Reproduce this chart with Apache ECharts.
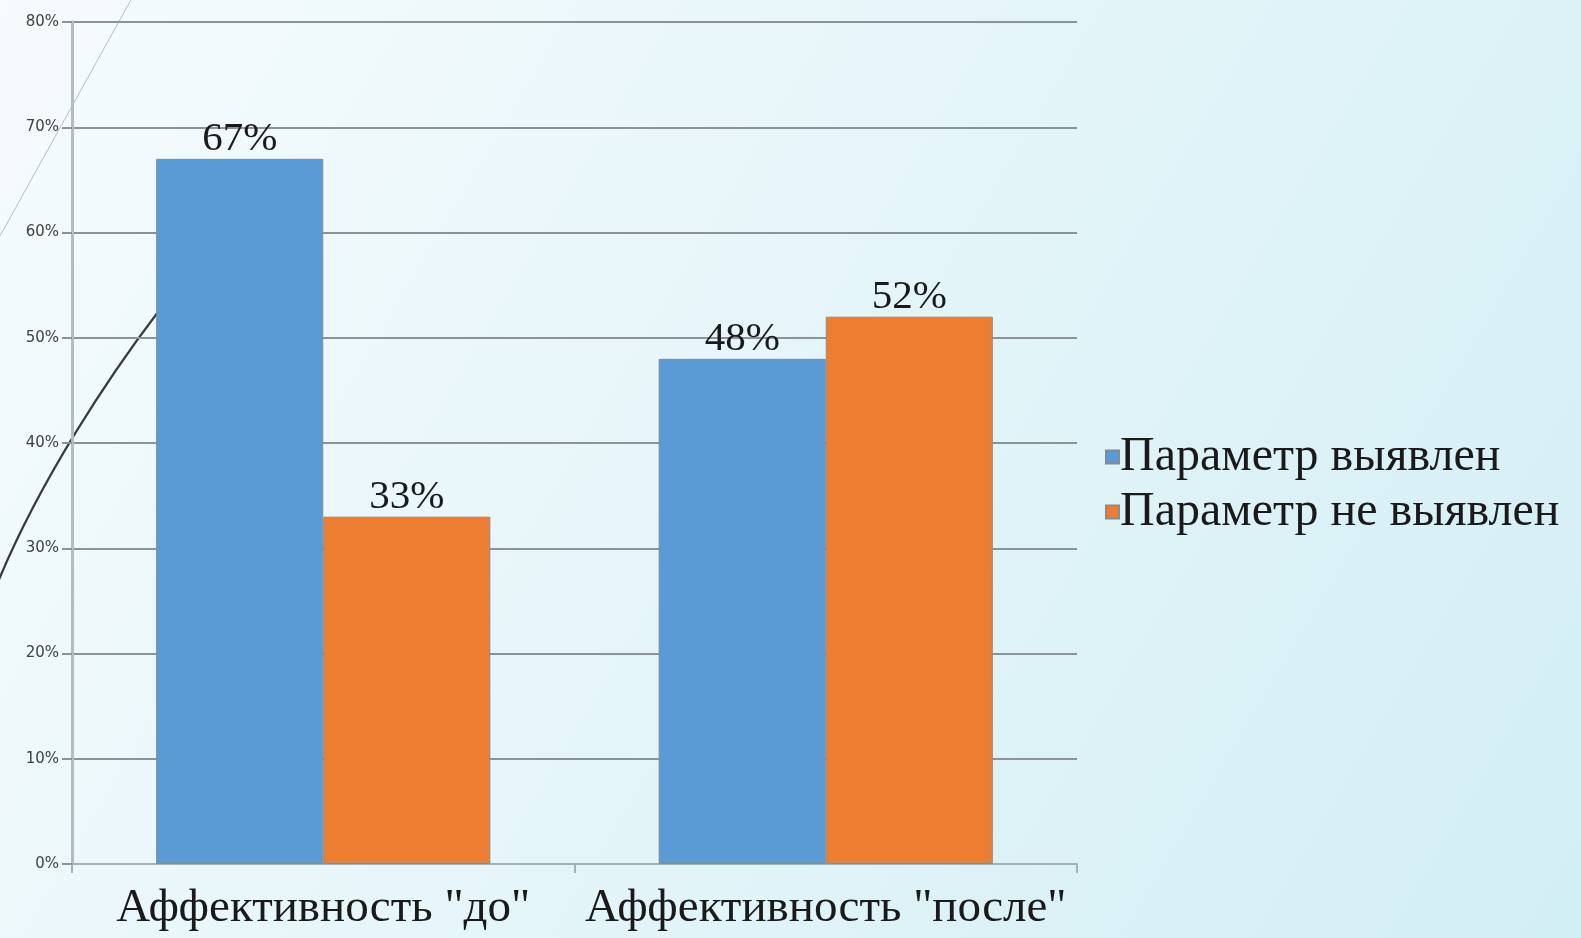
<!DOCTYPE html>
<html><head><meta charset="utf-8">
<script src="https://cdn.jsdelivr.net/npm/echarts@6/dist/echarts.min.js"></script>
<style>html,body{margin:0;padding:0;}#c{width:1581px;height:938px;}</style>
</head><body><div id="c"></div>
<script>
const categories = ['Аффективность "до"', 'Аффективность "после"'];
const seriesNames = ['Параметр выявлен', 'Параметр не выявлен'];
const detected = [67, 48];
const notDetected = [33, 52];
const yTicks = [0, 10, 20, 30, 40, 50, 60, 70, 80];

const chart = echarts.init(document.getElementById('c'));
const serif = '"Liberation Serif", "DejaVu Serif", serif';
chart.setOption({
  backgroundColor: new echarts.graphic.LinearGradient(0, 0, 1, 1, [
    {offset: 0, color: '#f6fbfd'},
    {offset: 0.5, color: '#e4f5f9'},
    {offset: 1, color: '#d2eef5'}
  ]),
  animation: false,
  graphic: [
    {type: 'line', z: -10, shape: {x1: 132, y1: -2, x2: 0, y2: 236}, style: {stroke: '#b8bcbf', lineWidth: 1}},
    {type: 'bezierCurve', z: -10, shape: {x1: 158, y1: 312, cpx1: 110, cpy1: 375, cpx2: 40, cpy2: 480, x2: -2, y2: 582}, style: {stroke: '#3a3a3a', lineWidth: 2.2, fill: null}}
  ],
  grid: {left: 72, right: 504, top: 22, bottom: 74, containLabel: false},
  legend: {
    orient: 'vertical', left: 1100, top: 428,
    itemWidth: 13, itemHeight: 13, itemGap: 7, icon: 'rect',
    textStyle: {fontFamily: serif, fontSize: 48, color: '#1a1a1a', padding: [0, 0, 0, -4]},
    data: seriesNames
  },
  xAxis: {
    type: 'category', data: categories,
    axisLine: {lineStyle: {color: '#a9b0b3', width: 2}},
    axisTick: {show: true, length: 9, lineStyle: {color: '#a9b0b3', width: 2}},
    axisLabel: {fontFamily: serif, fontSize: 47, color: '#1a1a1a', margin: 21, interval: 0}
  },
  yAxis: {
    type: 'value', min: 0, max: 80, interval: 10,
    axisLine: {show: true, lineStyle: {color: '#b4bcbf', width: 3}},
    axisTick: {show: true, length: 10, lineStyle: {color: '#8c9396', width: 2}},
    splitLine: {lineStyle: {color: '#8c9396', width: 2}},
    axisLabel: {formatter: v => yTicks.includes(v) ? v + '%' : '', fontFamily: '"DejaVu Sans", sans-serif', fontSize: 15, color: '#404040', margin: 13}
  },
  series: [
    {
      name: seriesNames[0], type: 'bar', data: detected,
      barGap: '0%', barCategoryGap: '33.5%',
      itemStyle: {color: '#5b9bd5', borderColor: '#7f8c96', borderWidth: 1},
      label: {show: true, position: 'top', distance: -1, formatter: '{c}%', fontFamily: serif, fontSize: 41, color: '#1a1a1a'}
    },
    {
      name: seriesNames[1], type: 'bar', data: notDetected,
      itemStyle: {color: '#ed7d31', borderColor: '#8f8a86', borderWidth: 1},
      label: {show: true, position: 'top', distance: -1, formatter: '{c}%', fontFamily: serif, fontSize: 41, color: '#1a1a1a'}
    }
  ]
});
</script></body></html>
